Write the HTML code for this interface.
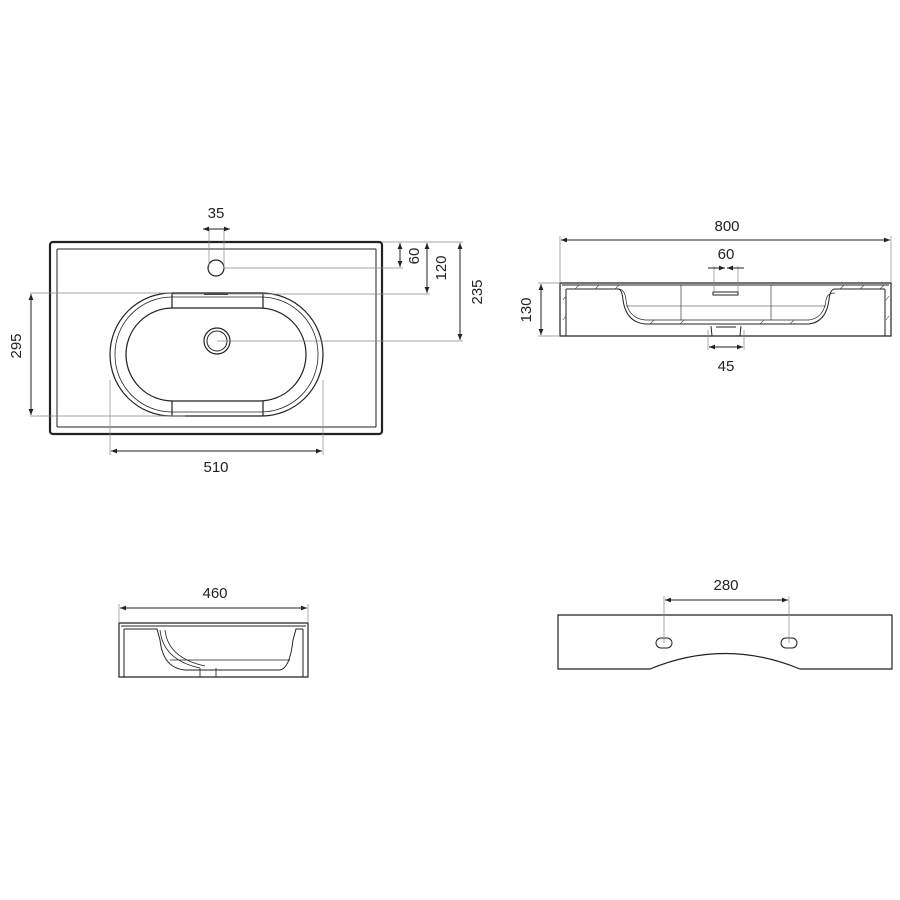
<!DOCTYPE html>
<html><head><style>body{margin:0;background:#fff}svg{display:block}text{font-family:"Liberation Sans",sans-serif;font-size:15px;fill:#222;text-anchor:middle}</style></head><body>
<svg width="900" height="900" viewBox="0 0 900 900" xmlns="http://www.w3.org/2000/svg">
<defs><marker id="a" viewBox="0 0 10 10" refX="10" refY="5" markerWidth="8" markerHeight="6" orient="auto-start-reverse"><path d="M0,1L10,5L0,9z" fill="#222"/></marker></defs>
<g fill="none" stroke="#222">
<!-- top view -->
<rect x="50" y="242" width="332" height="192" rx="3" stroke-width="2.2"/>
<path d="M57,249H376M57,427H376M57,249V427M376,249V427" stroke-width="1"/>
<rect x="110" y="293" width="213" height="123" rx="61.5" stroke-width="1.2"/>
<rect x="115" y="297" width="203" height="115" rx="57" stroke-width="0.8"/>
<rect x="126" y="308" width="180" height="93" rx="46.5" stroke-width="1.2"/>
<path d="M172,293V308M263,293V308M172,401V416M263,401V416" stroke-width="1.2"/>
<path d="M204,294H228" stroke-width="2"/>
<circle cx="217" cy="341" r="13" stroke-width="1.2"/><circle cx="217" cy="341" r="10" stroke-width="1"/>
<circle cx="216" cy="268" r="8" stroke-width="1.2"/>
<g stroke="#888" stroke-width="0.7">
<path d="M209,230V268M224,230V268M224,268H403M382,242H463M173,294H430M217,341H463M30,293H172M30,416H185M110,380V455M323,380V455"/>
</g>
<g stroke-width="1" marker-start="url(#a)" marker-end="url(#a)">
<path d="M203,229H230" marker-start="none"/><path d="M230,229H203" marker-start="none"/>
<path d="M400,243V267"/><path d="M427,243V293"/><path d="M460,243V340"/>
<path d="M31,294V415"/><path d="M111,451H322"/>
</g>
<!-- front view -->
<path d="M560,283H891V336H560Z" stroke-width="1.2"/>
<path d="M562,285H889M566,289V336M885,289V336M566,289H618Q622,289 623,300Q626,322 645,324H809Q826,322 829,300Q830,289 835,289H885" stroke-width="1"/>
<path d="M566,289H618Q625,289 626,300Q628,318 645,320H809Q824,318 826,300Q827,293 835,293" stroke-width="0.7"/>
<path d="M681,285V320M771,285V320M626,306H826" stroke-width="0.6"/>
<rect x="713" y="292" width="25" height="3" stroke-width="1"/>
<path d="M711,326L712,336H740L741,326M716,327H736" stroke-width="1"/>
<g stroke="#888" stroke-width="0.7"><path d="M560,236V283M891,236V283M714,266V292M738,266V292M708,330V350M744,330V350M538,283H560M538,336H560"/></g>
<g stroke-width="0.6" stroke="#444"><path d="M575,289l4,-4M595,289l4,-4M615,289l4,-4M840,289l4,-4M860,289l4,-4M880,289l4,-4M563,300l3,-4M563,320l3,-4M886,300l3,-4M886,320l3,-4M650,324l4,-4M680,324l4,-4M760,324l4,-4M790,324l4,-4"/></g>
<g stroke-width="1" marker-start="url(#a)" marker-end="url(#a)">
<path d="M561,240H890"/><path d="M541,284V335"/><path d="M709,347H743"/>
</g>
<path d="M708,268H725" stroke-width="1" marker-end="url(#a)"/><path d="M744,268H727" stroke-width="1" marker-end="url(#a)"/>
<!-- side view -->
<path d="M119,623H308V677H119Z" stroke-width="1.2"/>
<path d="M121,626H306M124,629V677M303,629V677M124,629H157L160,640Q163,668 185,670H280Q290,668 293,640L296,629H303" stroke-width="1"/>
<path d="M160,630Q163,660 200,668M165,630Q168,658 205,666M170,660H290M200,668V677M216,668V677" stroke-width="0.8"/>
<g stroke-width="1" marker-start="url(#a)" marker-end="url(#a)"><path d="M120,608H307"/></g>
<g stroke="#888" stroke-width="0.7"><path d="M119,604V623M308,604V623"/></g>
<!-- back view -->
<path d="M558,615H892V669H800Q725,638 650,669H558Z" stroke-width="1.2"/>
<rect x="656" y="638" width="16" height="10" rx="5" stroke-width="1"/>
<rect x="781" y="638" width="16" height="10" rx="5" stroke-width="1"/>
<g stroke="#888" stroke-width="0.7"><path d="M664,596V643M789,596V643"/></g>
<g stroke-width="1" marker-start="url(#a)" marker-end="url(#a)"><path d="M665,600H788"/></g>
</g>
<text x="216" y="218">35</text>
<text x="216" y="472">510</text>
<text transform="translate(419,256) rotate(-90)">60</text>
<text transform="translate(446,268) rotate(-90)">120</text>
<text transform="translate(482,292) rotate(-90)">235</text>
<text transform="translate(21,346) rotate(-90)">295</text>
<text x="727" y="231">800</text>
<text x="726" y="259">60</text>
<text x="726" y="371">45</text>
<text transform="translate(531,310) rotate(-90)">130</text>
<text x="215" y="598">460</text>
<text x="726" y="590">280</text>
</svg>
</body></html>
